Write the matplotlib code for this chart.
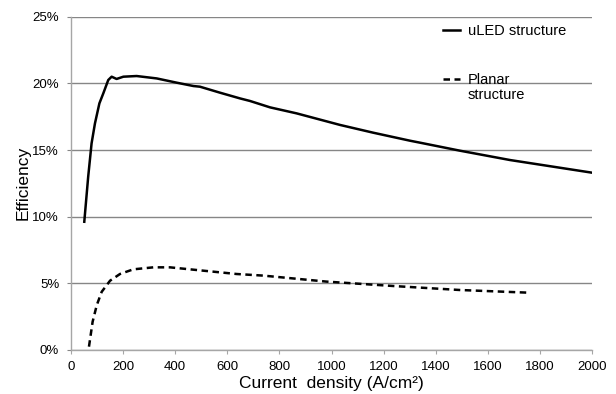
import matplotlib
matplotlib.use("Agg")
import matplotlib.pyplot as plt
from matplotlib.ticker import FuncFormatter

plt.rcParams['font.family'] = ['Liberation Sans', 'DejaVu Sans']

# uLED structure efficiency vs current density (A/cm2, %)
uled_j = [51, 66, 79, 92, 109, 124, 143, 156, 175, 201, 252, 329, 406, 470,
          495, 572, 649, 687, 764, 866, 1033, 1160, 1301, 1340, 1493, 1685,
          2000]
uled_eff = [9.62, 13.0, 15.5, 17.0, 18.5, 19.25, 20.25, 20.5, 20.33, 20.5,
            20.55, 20.37, 20.05, 19.8, 19.75, 19.3, 18.87, 18.68, 18.2, 17.75,
            16.88, 16.3, 15.7, 15.55, 14.95, 14.25, 13.3]

# Planar structure
planar_j = [69, 83, 99, 118, 150, 188, 239, 316, 380, 508, 636, 738, 981,
            1237, 1493, 1756]
planar_eff = [0.25, 2.12, 3.37, 4.37, 5.2, 5.7, 6.05, 6.2, 6.2, 5.95, 5.7,
              5.58, 5.13, 4.8, 4.5, 4.3]

x_ticks = list(range(0, 2001, 200))
y_ticks = [0, 5, 10, 15, 20, 25]

fig = plt.figure(figsize=(6.16, 3.94), dpi=100)
ax = fig.add_axes([71 / 616, 1 - 350 / 394, (592 - 71) / 616, (350 - 16.7) / 394])

ax.plot(uled_j, uled_eff, color='black', lw=1.8, label='uLED structure')
ax.plot(planar_j, planar_eff, color='black', lw=1.8, dashes=(2.6, 1.8),
        label='Planar')

ax.set_xlim(0, 2000)
ax.set_ylim(0, 25)
ax.set_xticks(x_ticks)
ax.set_yticks(y_ticks)
ax.yaxis.set_major_formatter(FuncFormatter(lambda v, p: f"{v:.0f}%"))

ax.grid(axis='y', color='#868686', lw=1)
ax.set_axisbelow(True)
for s in ['top', 'right']:
    ax.spines[s].set_visible(False)
for s in ['left', 'bottom']:
    ax.spines[s].set_color('#a6a6a6')
    ax.spines[s].set_linewidth(1)
ax.tick_params(axis='x', length=3, color='#a6a6a6', pad=5, labelsize=9.5)
ax.tick_params(axis='y', length=3, color='#868686', pad=5.5, labelsize=9.5)

ax.set_xlabel('Current  density (A/cm²)', fontsize=12.5, labelpad=2)
ax.set_ylabel('Efficiency', fontsize=12.5, labelpad=1)

leg = ax.legend(loc='upper left', bbox_to_anchor=(443 / 616, 1 - 24 / 394),
                bbox_transform=fig.transFigure, frameon=False, fontsize=10.5,
                handlelength=1.2, handletextpad=0.5, labelspacing=2.4,
                borderpad=0, borderaxespad=0)
# second line of the planar label, hung under "Planar"
ax.annotate('structure', xy=(0, 0), xycoords=leg.get_texts()[1],
            xytext=(0, -0.5), textcoords='offset points', va='top', ha='left',
            fontsize=10.5, zorder=10)

fig.savefig('out.png', dpi=100)
